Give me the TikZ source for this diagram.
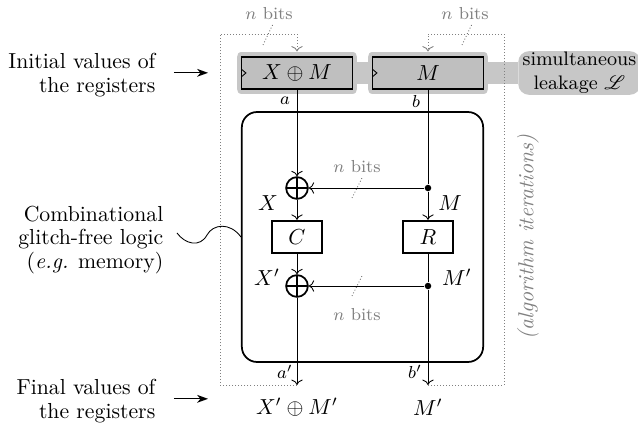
\documentclass[tikz,border=0pt]{standalone}
\usepackage{mathrsfs}
\usetikzlibrary{arrows.meta,positioning,backgrounds}
\definecolor{halo}{gray}{0.78}
\definecolor{regfill}{gray}{0.75}

\begin{document}
\begin{tikzpicture}[x=0.46pt,y=-0.46pt,
  reg/.style={draw,thick,fill=regfill,minimum width=51pt,minimum height=15pt,inner sep=0pt,
    preaction={draw=halo,line width=4.6pt,line join=round},
    path picture={\draw[thin] ([yshift=1.7pt]path picture bounding box.west) -- ++(2pt,-1.7pt) -- ++(-2pt,-1.7pt);}},
  xorop/.style={circle,draw,thick,minimum size=10pt,inner sep=0pt,
    path picture={\draw[thick] (path picture bounding box.north) -- (path picture bounding box.south)
      (path picture bounding box.west) -- (path picture bounding box.east);}},
  fbox/.style={draw,thick,minimum width=23pt,minimum height=15pt,inner sep=0pt},
  tap/.style={circle,fill,inner sep=0pt,minimum size=3pt},
  nbits/.style={gray,font=\footnotesize},
  busmark/.style={gray!80!black,densely dotted},
  feedback/.style={->,gray,densely dotted,shorten >=2pt},
  side/.style={align=right,anchor=east,font={\fontsize{10}{11}\selectfont}},
  inarrow/.style={-{Stealth[length=5pt,width=3.6pt,inset=1.5pt]},semithick}]
\useasboundingbox (0,0) rectangle (638,426);
% registers and leakage
\node[reg] (xm) at (297,73) {$X\oplus M$};
\node[reg] (mreg) at (428,73) {$M$};
\node[fill=halo,rounded corners=5pt,align=center,font=\small,inner xsep=2pt,inner ysep=0.5pt,
  minimum width=53pt,anchor=east] (leak) at (641,73) {simultaneous\\leakage $\mathscr{L}$};
\begin{scope}[on background layer]
\draw[halo,line width=10pt] (xm.east) -- (leak.west);
\end{scope}
% combinational logic
\node[draw,thick,rounded corners=7pt,minimum width=111pt,minimum height=115pt] (logic) at (362.5,237) {};
\node[xorop] (x1) at (297,188) {};
\node[xorop] (x2) at (297,286) {};
\node[fbox] (cbox) at (297,237) {$C$};
\node[fbox] (rbox) at (428,237) {$R$};
\node[tap] (t1) at (428,188) {};
\node[tap] (t2) at (428,286) {};
\coordinate (aend) at (297,385);
\coordinate (bend) at (428,385);
\node (xout) at (297,407) {$X'\oplus M'$};
\node (mout) at (428,407) {$M'$};
% wire labels
\node[font=\footnotesize] (la) at (285,101) {$a$};
\node[font=\footnotesize] (lb) at (416,101) {$b$};
\node[font=\footnotesize] (la2) at (285,372) {$a'$};
\node[font=\footnotesize] (lb2) at (415,372) {$b'$};
\node (lx) at (268,203) {$X$};
\node (lm) at (450,203) {$M$};
\node (lx2) at (267,277) {$X'$};
\node (lm2) at (457,277) {$M'$};
\node[nbits] (nb1) at (269,14) {$n$ bits};
\node[nbits] (nb2) at (465,14) {$n$ bits};
\node[nbits] (nb3) at (357,167) {$n$ bits};
\node[nbits] (nb4) at (357,315) {$n$ bits};
\draw[busmark] ([shift={(-6,31)}]nb1.center) -- ++(10,-21);
\draw[busmark] ([shift={(-3,31)}]nb2.center) -- ++(10,-21);
\draw[busmark] ([shift={(-5,31)}]nb3.center) -- ++(10,-20);
\draw[busmark] ([shift={(-5,-19)}]nb4.center) -- ++(10,-20);
% wires
\draw[->] (xm) -- (x1);
\draw[->] (x1) -- (cbox);
\draw[->] (cbox) -- (x2);
\draw[->] (x2) -- (aend);
\draw (mreg) -- (t1);
\draw[->] (t1) -- (rbox);
\draw (rbox) -- (t2);
\draw[->] (t2) -- (bend);
\draw[->] (t1) -- (x1);
\draw[->] (t2) -- (x2);
% iterations
\coordinate (cl) at (220,34);
\coordinate (cr) at (504,34);
\draw[feedback] (aend) -| (cl) -| (xm.north);
\draw[feedback] (bend) -| (cr) -| (mreg.north);
\node[gray,rotate=90] (iter) at (528,237) {\textit{(algorithm iterations)}};
% side texts
\node[side] (init) at (163,75) {Initial values of\\the registers};
\node[side] (comb) at (171,240) {Combinational\\glitch-free logic\\(\textit{e.g.} memory)};
\node[side] (final) at (163,401) {Final values of\\the registers};
\coordinate (iend) at (208,0);
\draw[inarrow] ([xshift=5pt,yshift=1pt]init.east) -- ([yshift=1pt]init.east -| iend);
\draw[inarrow] ([xshift=5pt,yshift=1pt]final.east) -- ([yshift=1pt]final.east -| iend);
\draw ([shift={(6,-7)}]comb.east) .. controls (185,244) and (200,248) .. (207,235)
  .. controls (213,224) and (230,222) .. (logic.west);
\end{tikzpicture}
\end{document}
